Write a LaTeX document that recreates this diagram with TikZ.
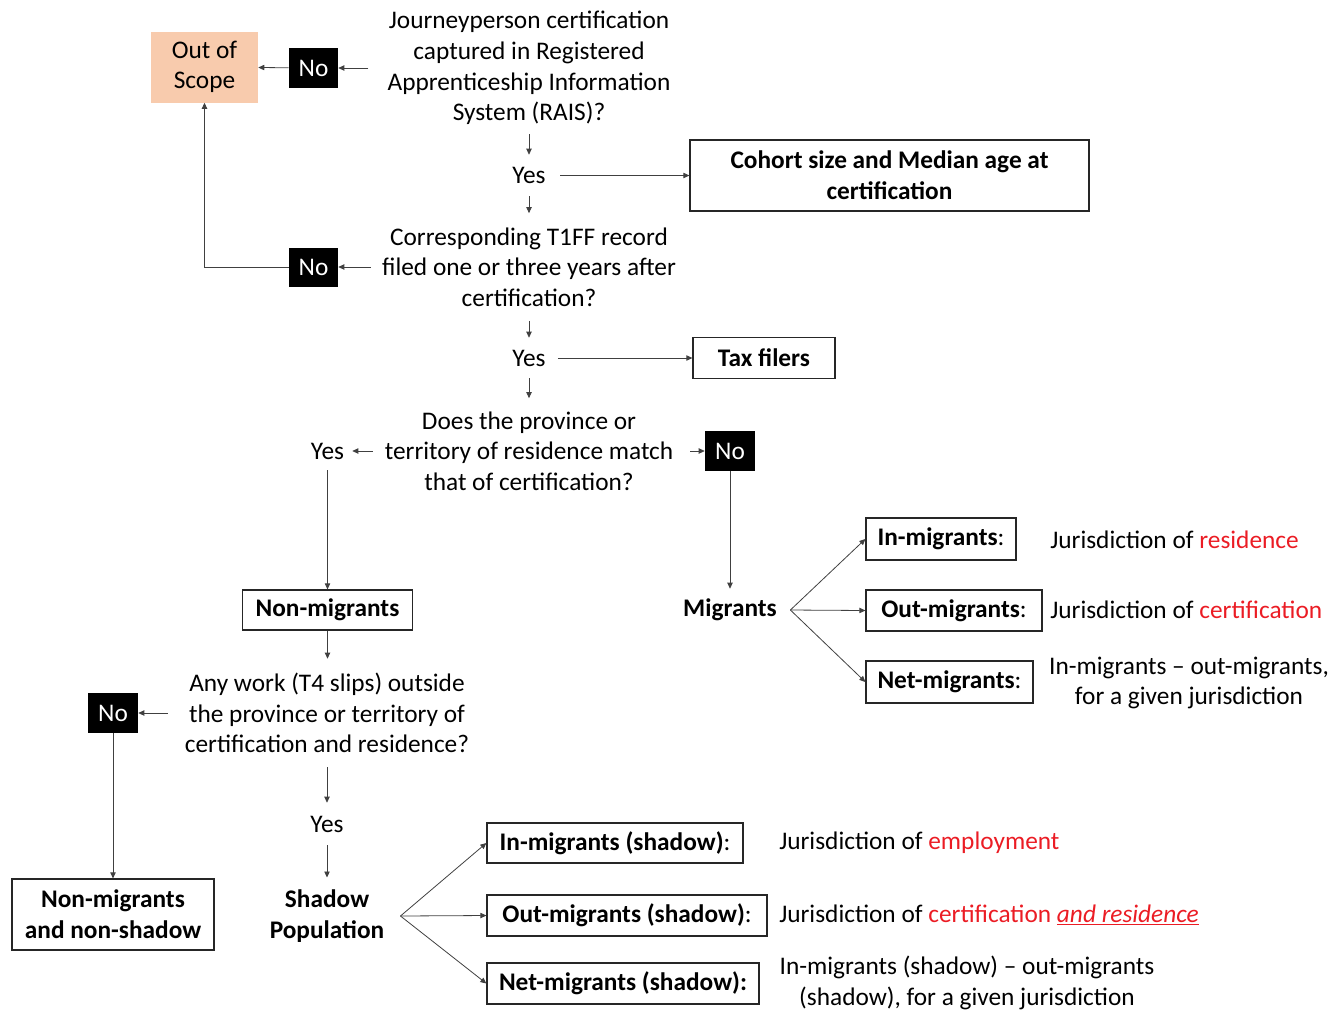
\documentclass[tikz,border=0pt]{standalone}
\usepackage{fontspec}
\setmainfont{Carlito}
\usetikzlibrary{arrows.meta}
\definecolor{peach}{RGB}{248,203,173}
\definecolor{myred}{RGB}{235,28,36}
\begin{document}
\begin{tikzpicture}[x=0.75pt,y=-0.75pt,
  font=\fontsize{19}{23}\selectfont,
  q/.style={align=center, inner xsep=0pt},
  yes/.style={inner xsep=0pt, inner ysep=0pt},
  blk/.style={fill=black, text=white, minimum width=36.75pt, minimum height=30pt, inner sep=0pt},
  bx/.style={draw=black!85, line width=0.9pt, inner sep=0pt, align=center, font=\fontsize{19}{23}\selectfont\bfseries},
  txt/.style={inner sep=0pt, align=center},
  arr/.style={draw=black!75, line width=0.6pt, -{Triangle[length=4.5pt,width=4pt]}},
]
\useasboundingbox (0,0) rectangle (1342,1011);

% top section
\node[fill=peach, inner sep=0pt, align=center, minimum width=80.25pt, minimum height=53.25pt] (out) at (204.5,67) {Out of\\Scope};
\node[blk] (no1) at (313.5,68) {No};
\node[q, inner ysep=6.75pt] (q1) at (529,68) {Journeyperson certification\\captured in Registered\\Apprenticeship Information\\System (RAIS)?};
\node[yes, minimum height=30.75pt] (yes1) at (529,175.5) {Yes};
\node[bx, minimum width=299.25pt, minimum height=53.25pt] (cohort) at (889.5,175.5) {Cohort size and Median age at\\certification};

\node[q, inner ysep=10.5pt] (q2) at (529,267) {Corresponding T1FF record\\filed one or three years after\\certification?};
\node[blk, minimum height=29.25pt] (no2) at (313.5,267) {No};
\node[yes, minimum height=30pt] (yes2) at (529,358) {Yes};
\node[bx, minimum width=106.5pt, minimum height=30.75pt] (tax) at (764,358) {Tax filers};

\node[q, inner ysep=9.75pt] (q3) at (529,451) {Does the province or\\territory of residence match\\that of certification?};
\node[yes, inner xsep=6pt, minimum height=28.5pt] (yes3) at (327.5,451) {Yes};
\node[blk, minimum width=37.5pt] (no3) at (730,451) {No};

% migrants
\node[bx, minimum width=127.5pt, minimum height=30pt] (nonmig) at (327.5,610) {Non-migrants};
\node[txt, font=\fontsize{19}{23}\selectfont\bfseries, inner xsep=10pt, inner ysep=7.5pt] (migr) at (730,610) {Migrants};
\node[bx, minimum width=112.5pt, minimum height=31.5pt] (inm) at (941,539) {In-migrants\textmd{:}};
\node[bx, minimum width=132pt, minimum height=30.75pt] (outm) at (954,610.5) {Out-migrants\textmd{:}};
\node[bx, minimum width=125.25pt, minimum height=31.5pt] (netm) at (949.5,682) {Net-migrants\textmd{:}};
\node[txt, anchor=west] (tin) at (1050,540) {Jurisdiction of \textcolor{myred}{residence}};
\node[txt, anchor=west] (tout) at (1050,610) {Jurisdiction of \textcolor{myred}{certification}};
\node[txt] (tnet) at (1189,683) {In-migrants – out-migrants,\\for a given jurisdiction};

% shadow
\node[q, inner ysep=10.5pt] (q4) at (327,713) {Any work (T4 slips) outside\\the province or territory of\\certification and residence?};
\node[blk, minimum width=37.5pt] (no4) at (113,713) {No};
\node[bx, minimum width=151.5pt, minimum height=53.25pt] (nmns) at (113,914.5) {Non-migrants\\and non-shadow};
\node[yes, minimum height=31.5pt] (yes4) at (327,824) {Yes};
\node[txt, font=\fontsize{19}{23}\selectfont\bfseries, inner xsep=12pt, inner ysep=9pt] (shadow) at (327,916) {Shadow\\Population};
\node[bx, minimum width=192pt, minimum height=30pt] (ins) at (615,843) {In-migrants (shadow)\textmd{:}};
\node[bx, minimum width=210pt, minimum height=30.75pt] (outs) at (627,915.5) {Out-migrants (shadow)\textmd{:}};
\node[bx, minimum width=204pt, minimum height=30.75pt] (nets) at (623,983.5) {Net-migrants (shadow):};
\node[txt, anchor=west] (tins) at (779,843) {Jurisdiction of \textcolor{myred}{employment}};
\node[txt, anchor=west] (touts) at (779,915) {Jurisdiction of \textcolor{myred}{certification \underline{\textit{and residence}}}};
\node[txt] (tnets) at (967,983) {In-migrants (shadow) – out-migrants\\(shadow), for a given jurisdiction};

% connectors
\draw[arr] ([xshift=-14.25pt]q1.west) -- (no1);
\draw[arr] (no1) -- (out);
\draw[arr] (q1.south) -- (yes1.north);
\draw[arr] ([xshift=11pt]yes1.east) -- (cohort);
\draw[arr] (yes1.south) -- (q2.north);
\draw[arr] ([xshift=-8.25pt]q2.west) -- (no2);
\draw[arr] (no2.west) -| (out.south);
\draw[arr] (q2.south) -- (yes2.north);
\draw[arr] ([xshift=9pt]yes2.east) -- (tax);
\draw[arr] (yes2.south) -- (q3.north);
\draw[arr] ([xshift=-9pt]q3.west) -- (yes3);
\draw[arr] ([xshift=12.75pt]q3.east) -- (no3);
\draw[arr] (yes3.south) -- (yes3.south |- nonmig.north);
\draw[arr] (no3.south) -- (migr.north);
\draw[arr] (migr.east) -- (inm.west);
\draw[arr] (migr.east) -- (outm.west);
\draw[arr] (migr.east) -- (netm.west);
\draw[arr] (nonmig.south) -- (nonmig.south |- q4.north);
\draw[arr] ([xshift=-12.75pt]q4.west) -- (no4);
\draw[arr] (no4.south) -- (nmns.north);
\draw[arr] (q4.south) -- (yes4.north);
\draw[arr] (yes4.south) -- (shadow.north);
\draw[arr] (shadow.east) -- (ins.west);
\draw[arr] (shadow.east) -- (outs.west);
\draw[arr] (shadow.east) -- (nets.west);
\end{tikzpicture}
\end{document}
